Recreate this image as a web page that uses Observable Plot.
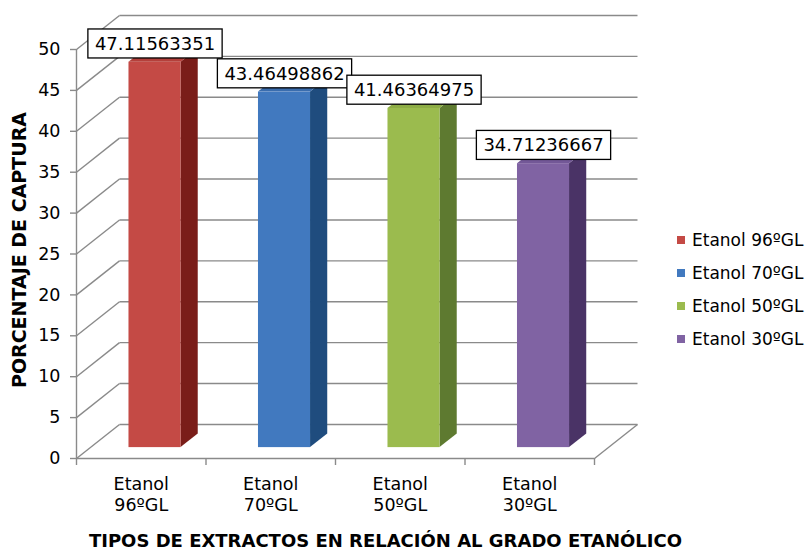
<!DOCTYPE html>
<html>
<head>
<meta charset="utf-8">
<script src="https://cdn.jsdelivr.net/npm/d3@7"></script>
<script src="https://cdn.jsdelivr.net/npm/@observablehq/plot@0.6"></script>
<style>
  html, body { margin: 0; padding: 0; background: #fff; }
  #chart { position: relative; width: 812px; height: 553px; overflow: hidden; font-family: "DejaVu Sans", Verdana, sans-serif; }
  #legend { position: absolute; left: 677px; top: 223px; font-size: 17px; color: #000; }
  #legend .row { height: 33px; display: flex; align-items: center; white-space: nowrap; }
  #legend .sw { width: 8px; height: 8px; margin-right: 7px; }
</style>
</head>
<body>
<div id="chart"><div id="legend"></div></div>
<script>
// Capture percentage per ethanol extract
const categories = ["Etanol 96ºGL", "Etanol 70ºGL", "Etanol 50ºGL", "Etanol 30ºGL"];
const tickLabels = ["Etanol\n96ºGL", "Etanol\n70ºGL", "Etanol\n50ºGL", "Etanol\n30ºGL"];
const values = [47.11563351, 43.46498862, 41.46364975, 34.71236667];
const yTicks = [0, 5, 10, 15, 20, 25, 30, 35, 40, 45, 50];
const frontColors = ["#C44A45", "#4179BF", "#9BBB4E", "#8063A3"];
const topColors = ["#B4403B", "#3A6DAE", "#8DAC45", "#735897"];
const sideColors = ["#7A1D19", "#1F4C7E", "#5E7A30", "#4A3366"];
const yTitle = "PORCENTAJE DE CAPTURA";
const xTitle = "TIPOS DE EXTRACTOS EN RELACIÓN AL GRADO ETANÓLICO";

// Oblique 3D projection: depth d in [0,1] shifts a point right (category units) and up (value units)
const DX = 0.332, DY = 4.16;
const D0 = 0.32, D1 = 0.72;   // front and back of each bar along the depth axis
const HW = 0.201;             // half the bar width, in category units
const nCat = categories.length;

const bars = values.map((v, i) => ({i, v, c: i + 0.5}));
const sidePts = bars.flatMap(b => [D0, D1].map(d => ({
  i: b.i, x: b.c + HW + DX * d, y1: DY * d, y2: b.v + DY * d, fill: sideColors[b.i]
})));
const topPts = bars.flatMap(b => [D0, D1].map(d => ({
  i: b.i, y: b.v + DY * d, xa: b.c - HW + DX * d, xb: b.c + HW + DX * d, fill: topColors[b.i]
})));

const grid = {stroke: "#8a8a8a", strokeWidth: 1.4};

const chart = Plot.plot({
  width: 812,
  height: 553,
  marginLeft: 76,
  marginRight: 218,
  marginTop: 49,
  marginBottom: 95,
  x: {domain: [0, nCat]},
  y: {domain: [0, 50]},
  color: {type: "identity"},
  style: {fontFamily: "DejaVu Sans, Verdana, sans-serif", fontSize: "17px", color: "#000", background: "transparent"},
  marks: [
    // back wall
    Plot.link(yTicks, {x1: DX, x2: nCat + DX, y1: v => v + DY, y2: v => v + DY, ...grid}),
    // left wall
    Plot.link(yTicks, {x1: 0, y1: v => v, x2: DX, y2: v => v + DY, ...grid}),
    // floor right edge and front edge
    Plot.link([0], {x1: nCat, y1: 0, x2: nCat + DX, y2: DY, ...grid}),
    Plot.ruleY([0], {x1: 0, x2: nCat, ...grid}),
    Plot.ruleX([0], {y1: 0, y2: 50, ...grid}),
    // bars: side, top and front faces
    Plot.area(sidePts, {x1: "x", y1: "y1", y2: "y2", z: "i", fill: "fill"}),
    Plot.area(topPts, {y1: "y", x1: "xa", x2: "xb", z: "i", fill: "fill"}),
    Plot.rect(bars, {
      x1: d => d.c - HW + DX * D0, x2: d => d.c + HW + DX * D0,
      y1: DY * D0, y2: d => d.v + DY * D0, fill: d => frontColors[d.i]
    }),
    // axes
    Plot.axisY(yTicks, {tickSize: 6, tickPadding: 10, stroke: "#8a8a8a", strokeWidth: 1.4, fill: "#000", label: null, fontSize: 17.5}),
    Plot.axisX(d3.range(nCat + 1), {tickSize: 7, tickFormat: () => "", stroke: "#8a8a8a", strokeWidth: 1.4, label: null}),
    Plot.axisX(bars.map(b => b.c), {tickSize: 0, tickPadding: 17, tickFormat: d => tickLabels[Math.floor(d)], fill: "#000", label: null, fontSize: 17.5, lineHeight: 1.17}),
    // value labels
    Plot.text(bars, {x: d => d.c + DX * D0, y: d => d.v + DY * D0, text: d => String(d.v), dy: -18, fontSize: 18, fill: "#000"}),
    // axis titles
    Plot.text([yTitle], {text: d => d, frameAnchor: "left", textAnchor: "middle", rotate: -90, dx: -57, dy: -4, fontWeight: "bold", fontSize: 19, fill: "#000"}),
    Plot.text([xTitle], {text: d => d, frameAnchor: "bottom", dy: 83, dx: 50, lineAnchor: "middle", fontWeight: "bold", fontSize: 18, letterSpacing: "0.4px", fill: "#000"})
  ]
});

const container = document.getElementById("chart");
container.prepend(chart);

// white boxes with black border behind the value labels
const labelSet = new Set(values.map(v => String(v)));
chart.querySelectorAll("text").forEach(t => {
  if (!labelSet.has(t.textContent)) return;
  const bb = t.getBBox();
  const r = document.createElementNS("http://www.w3.org/2000/svg", "rect");
  r.setAttribute("x", bb.x - 7);
  r.setAttribute("y", bb.y - 4);
  r.setAttribute("width", bb.width + 14);
  r.setAttribute("height", bb.height + 8);
  r.setAttribute("fill", "#fff");
  r.setAttribute("stroke", "#000");
  r.setAttribute("stroke-width", 1.3);
  if (t.getAttribute("transform")) r.setAttribute("transform", t.getAttribute("transform"));
  t.parentNode.insertBefore(r, t);
});

// legend
const legend = document.getElementById("legend");
categories.forEach((name, i) => {
  const row = document.createElement("div");
  row.className = "row";
  const sw = document.createElement("span");
  sw.className = "sw";
  sw.style.background = frontColors[i];
  const label = document.createElement("span");
  label.textContent = name;
  row.append(sw, label);
  legend.append(row);
});
</script>
</body>
</html>
